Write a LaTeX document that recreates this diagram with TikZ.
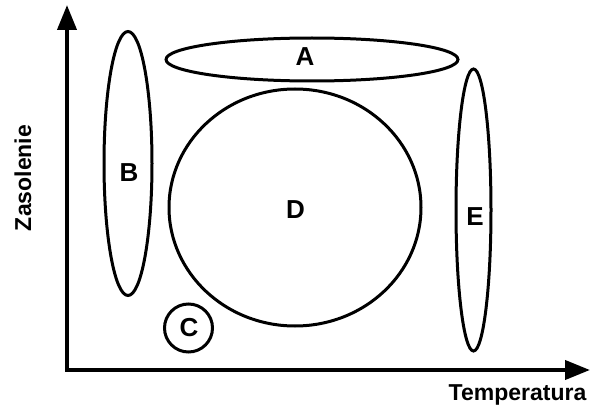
\documentclass[tikz,border=0pt]{standalone}
\usepackage{fontspec}
\setmainfont{Liberation Sans}
\usetikzlibrary{shapes.geometric,arrows.meta}
\begin{document}
\begin{tikzpicture}[x=1pt,y=-1pt,
  region/.style={draw=black,line width=3pt,ellipse,inner sep=0pt},
  lbl/.style={font=\fontsize{26}{26}\selectfont\bfseries,inner sep=0pt},
  axlbl/.style={font=\fontsize{23}{23}\selectfont\bfseries,inner sep=0pt},
  axis/.style={line width=4pt,{Triangle[length=25pt,width=19pt]}-{Triangle[length=25pt,width=19pt]}}]
\useasboundingbox (0,0) rectangle (590,412);
\coordinate (O) at (67,370);
\coordinate (Y) at (67,5);
\coordinate (X) at (590,370);
\draw[axis] (Y) -- (O) -- (X);
\node[region,minimum width=292pt,minimum height=43pt] (A) at (312,59.5) {};
\node[region,minimum width=48pt,minimum height=264pt] (B) at (128,163.5) {};
\node[region,minimum width=252pt,minimum height=237pt] (D) at (295,207.5) {};
\node[region,minimum width=48pt,minimum height=48pt] (C) at (188.5,328) {};
\node[region,minimum width=35pt,minimum height=282pt] (E) at (473.5,210) {};
\node[lbl] (tA) at (305,57) {A};
\node[lbl] (tB) at (129,173) {B};
\node[lbl] (tC) at (189,328) {C};
\node[lbl] (tD) at (295.5,210) {D};
\node[lbl] (tE) at (475,217) {E};
\node[axlbl,rotate=90] (ty) at (23,178) {Zasolenie};
\node[axlbl] (tx) at (517.5,395) {Temperatura};
\end{tikzpicture}
\end{document}
